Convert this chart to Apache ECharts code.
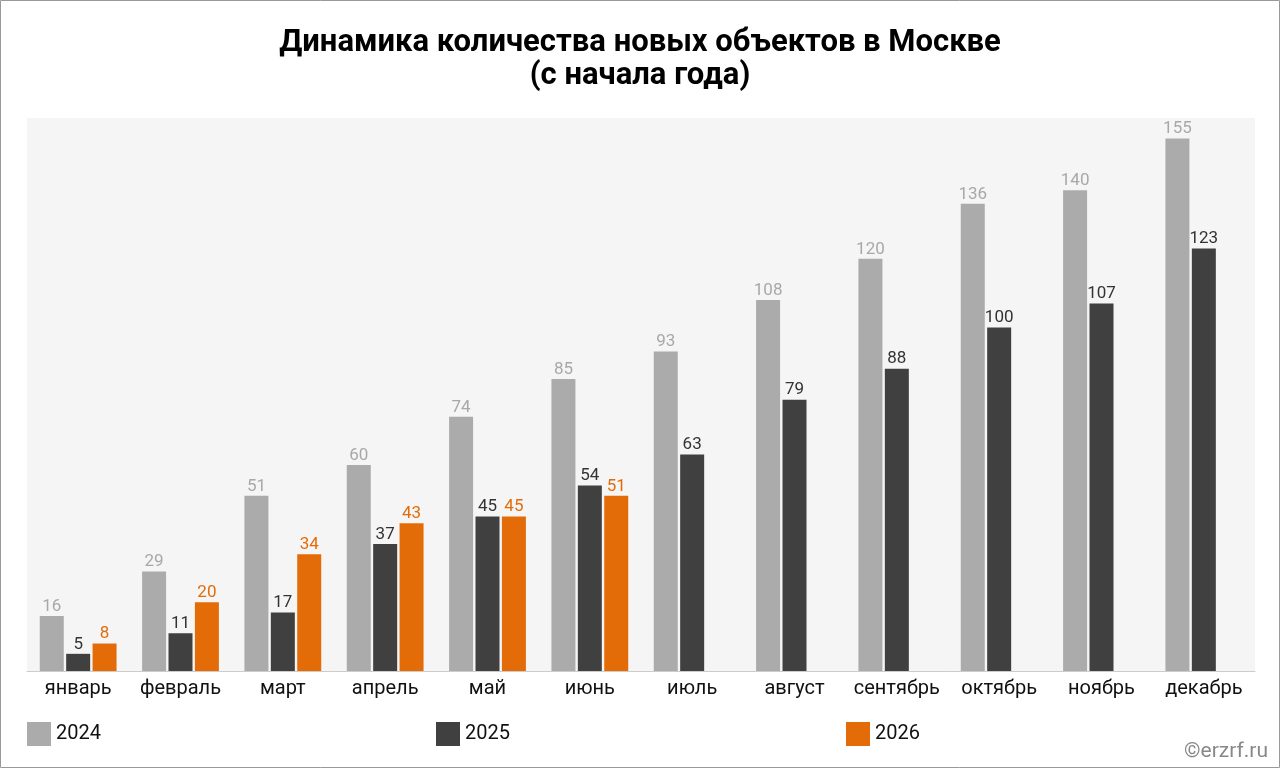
<!DOCTYPE html>
<html><head><meta charset="utf-8">
<script src="https://cdn.jsdelivr.net/npm/echarts@6/dist/echarts.min.js"></script>
<style>html,body{margin:0;padding:0;background:#fff}#c{width:1280px;height:768px}</style>
</head><body><div id="c"></div>
<script>
const categories = ['январь','февраль','март','апрель','май','июнь','июль','август','сентябрь','октябрь','ноябрь','декабрь'];
const values2024 = [16,29,51,60,74,85,93,108,120,136,140,155];
const values2025 = [5,11,17,37,45,54,63,79,88,100,107,123];
const values2026 = [8,20,34,43,45,51,null,null,null,null,null,null];
const seriesNames = ['2024','2025','2026'];
const colors = ['#ababab','#404040','#e36c09'];
const labelColors = ['#a8a8a8','#333333','#e36c09'];

const chart = echarts.init(document.getElementById('c'));
const font = 'Roboto';
function mk(i, data){
  return {
    name: seriesNames[i], type:'bar', data: data, barWidth: 24, barGap:'10%',
    itemStyle:{color:colors[i]},
    label:{show:true, position:'top', distance:1, color:labelColors[i], fontSize:17, fontFamily:font}
  };
}
const legends = seriesNames.map((n,i)=>({
  data:[n], left:[27,436,846][i], top:722, padding:0, itemWidth:24, itemHeight:24, itemGap:4,
  icon:'rect', selectedMode:false,
  textStyle:{fontSize:20, color:'#111', fontFamily:font, padding:[0,0,0,0]}
}));
chart.setOption({
  animation:false,
  title:{text:'Динамика количества новых объектов в Москве\n(с начала года)', left:'center', top:22,
    textStyle:{fontSize:31, fontWeight:'bold', color:'#000', fontFamily:font, lineHeight:33}},
  legend: legends,
  grid:{left:27, right:25, top:118, bottom:97, show:true, backgroundColor:'#f5f5f5', borderWidth:0},
  xAxis:{type:'category', data:categories,
    axisLine:{lineStyle:{color:'#cccccc'}}, axisTick:{show:false},
    axisLabel:{fontSize:20, color:'#111', margin:8, fontFamily:font, interval:0}},
  yAxis:{type:'value', min:0, max:161, show:false, splitLine:{show:false}},
  series:[mk(0,values2024), mk(1,values2025), mk(2,values2026)],
  graphic:[
    {type:'rect', shape:{x:0.5,y:0.5,width:1279,height:767}, style:{fill:'none', stroke:'#999', lineWidth:1}, silent:true},
    {type:'text', right:12, top:741, style:{text:'©erzrf.ru', fontSize:21, fill:'#888', fontFamily:font}}
  ]
});
</script></body></html>
